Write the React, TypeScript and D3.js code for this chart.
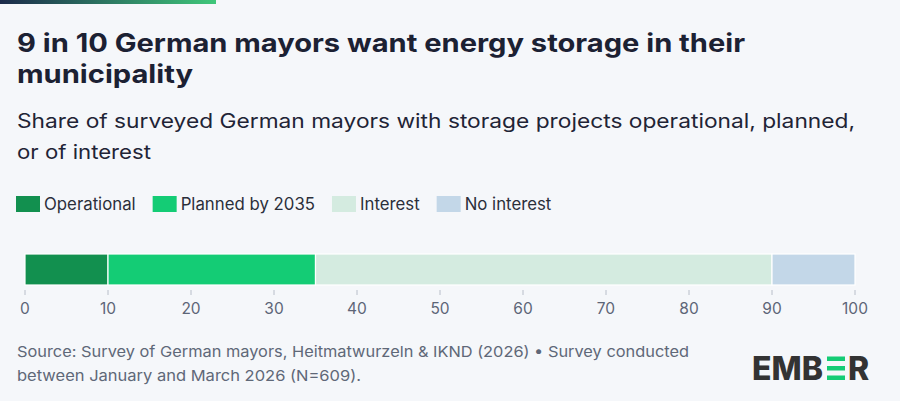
import { useRef, useEffect } from "react";
import * as d3 from "d3";

const categories = ["Operational", "Planned by 2035", "Interest", "No interest"];
const values = [10, 25, 55, 10];
const colors = ["#12904f", "#14cc75", "#d4ebe0", "#c3d7e8"];
const ticks = [0, 10, 20, 30, 40, 50, 60, 70, 80, 90, 100];

const titleLines = ["9 in 10 German mayors want energy storage in their", "municipality"];
const subtitleLines = [
  "Share of surveyed German mayors with storage projects operational, planned,",
  "or of interest",
];
const sourceLines = [
  "Source: Survey of German mayors, Heitmatwurzeln & IKND (2026) \u2022 Survey conducted",
  "between January and March 2026 (N=609).",
];

// right edges of each text line
const titleEnds = [745, 193];
const subtitleEnds = [855, 151];
const sourceEnds = [689, 361];

const FONT = "Inter, 'Noto Sans', sans-serif";

export default function App() {
  const ref = useRef<SVGSVGElement>(null);

  useEffect(() => {
    if (!ref.current) return;
    const svg = d3.select(ref.current);
    svg.selectAll("*").remove();

    const width = 900;
    const height = 401;
    const left = 17;

    svg.append("rect").attr("width", width).attr("height", height).attr("fill", "#f5f7fa");

    // top accent bar
    const defs = svg.append("defs");
    const grad = defs.append("linearGradient").attr("id", "topgrad");
    grad.append("stop").attr("offset", "0%").attr("stop-color", "#1b2a4a");
    grad.append("stop").attr("offset", "100%").attr("stop-color", "#3fc77a");
    svg.append("rect").attr("x", 0).attr("y", 0).attr("width", 216).attr("height", 4).attr("fill", "url(#topgrad)");

    svg.selectAll(".title")
      .data(titleLines)
      .join("text")
      .attr("x", left)
      .attr("y", (_, i) => 52 + i * 31)
      .attr("font-family", FONT)
      .attr("font-size", 25.5)
      .attr("font-weight", 700)
      .attr("fill", "#1c2133")
      .attr("textLength", (_, i) => titleEnds[i] - left)
      .attr("lengthAdjust", "spacingAndGlyphs")
      .text((d) => d);

    svg.selectAll(".subtitle")
      .data(subtitleLines)
      .join("text")
      .attr("x", left)
      .attr("y", (_, i) => 128 + i * 31)
      .attr("font-family", FONT)
      .attr("font-size", 19.5)
      .attr("fill", "#1f2436")
      .attr("textLength", (_, i) => subtitleEnds[i] - left)
      .attr("lengthAdjust", "spacingAndGlyphs")
      .text((d) => d);

    // legend
    const legend = svg.append("g").attr("transform", "translate(16,196)");
    let lx = 0;
    categories.forEach((c, i) => {
      const g = legend.append("g").attr("transform", `translate(${lx},0)`);
      g.append("rect").attr("width", 24).attr("height", 16).attr("fill", colors[i]);
      const t = g.append("text")
        .attr("x", 28)
        .attr("y", 13.5)
        .attr("font-family", FONT)
        .attr("font-size", 16.8)
        .attr("fill", "#2b2f3a")
        .text(c);
      const w = (t.node() as SVGTextElement).getComputedTextLength();
      lx += 28 + w + 17;
    });

    // bar
    const x = d3.scaleLinear().domain([0, 100]).range([25, 855]);
    const stacked = d3.cumsum(values);
    const starts = values.map((v, i) => stacked[i] - v);

    svg.append("g")
      .selectAll("rect")
      .data(values)
      .join("rect")
      .attr("x", (_, i) => x(starts[i]))
      .attr("y", 254)
      .attr("width", (d) => x(d) - x(0))
      .attr("height", 31)
      .attr("fill", (_, i) => colors[i])
      .attr("stroke", "#ffffff")
      .attr("stroke-width", 1.2);

    // axis
    const axis = svg.append("g").attr("transform", "translate(0,290)");
    axis.selectAll("line")
      .data(ticks)
      .join("line")
      .attr("x1", (d) => x(d))
      .attr("x2", (d) => x(d))
      .attr("y1", 0)
      .attr("y2", 5)
      .attr("stroke", "#b8bec9")
      .attr("stroke-width", 1);
    axis.selectAll("text")
      .data(ticks)
      .join("text")
      .attr("x", (d) => x(d))
      .attr("y", 24)
      .attr("text-anchor", "middle")
      .attr("font-family", FONT)
      .attr("font-size", 15.5)
      .attr("fill", "#5d6577")
      .text((d) => d);

    // source
    svg.selectAll(".source")
      .data(sourceLines)
      .join("text")
      .attr("x", left)
      .attr("y", (_, i) => 357 + i * 24)
      .attr("font-family", FONT)
      .attr("font-size", 15)
      .attr("fill", "#5f6878")
      .attr("textLength", (_, i) => sourceEnds[i] - left)
      .attr("lengthAdjust", "spacingAndGlyphs")
      .text((d) => d);

    // logo
    const logo = svg.append("g").attr("transform", "translate(752,380)");
    const logoText = (s: string, lxPos: number) =>
      logo.append("text")
        .attr("x", lxPos)
        .attr("y", 0)
        .attr("font-family", FONT)
        .attr("font-size", 32)
        .attr("font-weight", 800)
        .attr("fill", "#333333")
        .text(s);
    logoText("EMB", 0);
    logoText("R", 96);
    [0, 9.5, 19].forEach((dy) => {
      logo.append("rect")
        .attr("x", 75)
        .attr("y", -23.5 + dy)
        .attr("width", 18)
        .attr("height", 4.5)
        .attr("fill", "#14cc75");
    });
  }, []);

  return <svg ref={ref} width={900} height={401} style={{ position: "absolute", left: 0, top: 0 }} />;
}
